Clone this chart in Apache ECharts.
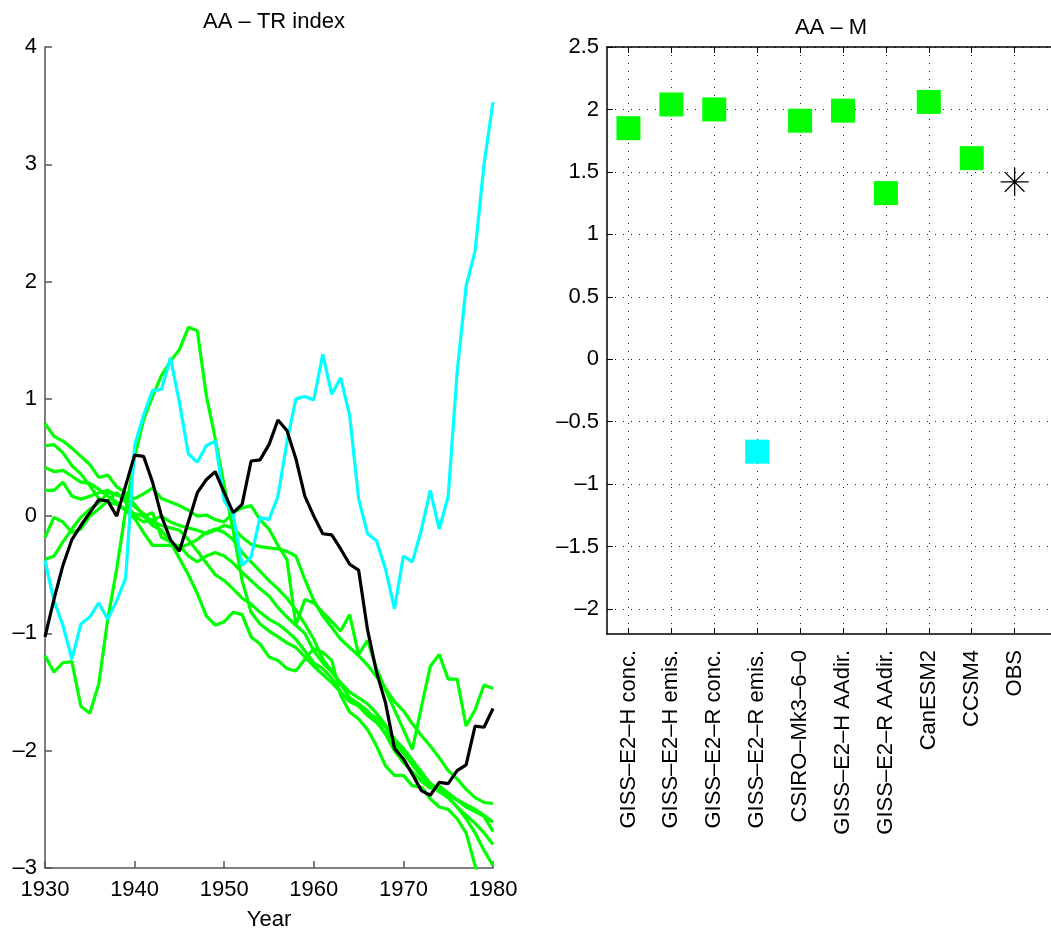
<!DOCTYPE html>
<html>
<head>
<meta charset="utf-8">
<script src="https://cdn.jsdelivr.net/npm/echarts@6/dist/echarts.min.js"></script>
<style>
html,body{margin:0;padding:0;background:#fff;}
#chart{width:1051px;height:929px;}
</style>
</head>
<body>
<div id="chart"></div>
<script>
// ---------- data ----------
const years = [1930,1931,1932,1933,1934,1935,1936,1937,1938,1939,
  1940,1941,1942,1943,1944,1945,1946,1947,1948,1949,
  1950,1951,1952,1953,1954,1955,1956,1957,1958,1959,
  1960,1961,1962,1963,1964,1965,1966,1967,1968,1969,
  1970,1971,1972,1973,1974,1975,1976,1977,1978,1979,1980];

const greenA = [0.79,0.68,0.64,0.58,0.51,0.44,0.33,0.35,0.25,0.20,
  0.10,0.00,-0.08,-0.12,-0.22,-0.36,-0.50,-0.66,-0.85,-0.93,
  -0.90,-0.82,-0.84,-1.03,-1.09,-1.20,-1.23,-1.30,-1.32,-1.22,
  -1.13,-1.16,-1.23,-1.53,-1.67,-1.73,-1.82,-1.96,-2.13,-2.21,
  -2.21,-2.30,-2.31,-2.41,-2.48,-2.50,-2.58,-2.70,-2.98,-3.25,-3.40];
const greenB = [0.60,0.61,0.54,0.43,0.36,0.26,0.15,0.12,0.10,0.05,
  -0.02,-0.14,-0.25,-0.25,-0.25,-0.25,-0.34,-0.39,-0.34,-0.31,
  -0.34,-0.40,-0.48,-0.55,-0.62,-0.68,-0.78,-0.86,-0.93,-1.00,
  -1.15,-1.25,-1.33,-1.42,-1.50,-1.55,-1.60,-1.68,-1.78,-1.90,
  -1.98,-2.08,-2.18,-2.28,-2.34,-2.40,-2.48,-2.58,-2.70,-2.85,-2.98];
const greenC = [0.415,0.38,0.39,0.34,0.29,0.28,0.23,0.17,0.12,0.05,
  0.02,0.00,0.03,-0.18,-0.22,-0.27,-0.24,-0.20,-0.14,-0.11,
  -0.14,-0.20,-0.31,-0.39,-0.47,-0.55,-0.62,-0.70,-0.80,-0.92,
  -1.05,-1.22,-1.32,-1.43,-1.55,-1.60,-1.66,-1.74,-1.86,-2.00,
  -2.10,-2.18,-2.26,-2.32,-2.30,-2.36,-2.42,-2.48,-2.52,-2.56,-2.69];
const greenD = [0.22,0.22,0.29,0.17,0.145,0.17,0.20,0.22,0.18,0.17,
  0.15,0.19,0.24,0.15,0.12,0.09,0.05,0.00,0.01,-0.03,
  -0.05,0.03,0.07,0.09,-0.03,-0.11,-0.25,-0.37,-0.93,-0.71,
  -0.74,-0.82,-0.90,-0.98,-0.84,-1.18,-1.06,-1.30,-1.48,-1.65,
  -1.82,-1.99,-1.63,-1.28,-1.18,-1.39,-1.39,-1.79,-1.65,-1.44,-1.47];
const greenE = [-0.18,-0.01,-0.05,-0.14,-0.11,0.00,0.06,0.13,0.20,0.12,
  0.00,-0.05,-0.03,0.00,-0.05,-0.08,-0.10,-0.12,-0.15,-0.12,
  -0.08,-0.10,-0.18,-0.24,-0.26,-0.27,-0.28,-0.30,-0.34,-0.54,
  -0.72,-0.85,-0.95,-1.05,-1.12,-1.19,-1.27,-1.37,-1.47,-1.58,
  -1.66,-1.77,-1.87,-1.96,-2.06,-2.17,-2.24,-2.33,-2.40,-2.44,-2.45];
const greenF = [-0.37,-0.34,-0.22,-0.11,-0.01,0.06,0.11,0.20,0.18,0.15,
  0.08,0.02,-0.05,-0.08,-0.10,-0.12,-0.20,-0.30,-0.40,-0.50,
  -0.55,-0.62,-0.70,-0.75,-0.82,-0.88,-0.92,-0.98,-1.05,-1.15,
  -1.25,-1.30,-1.38,-1.50,-1.58,-1.62,-1.68,-1.72,-1.80,-1.92,
  -2.00,-2.10,-2.20,-2.28,-2.33,-2.38,-2.42,-2.46,-2.50,-2.55,-2.61];
const greenG = [-1.19,-1.33,-1.25,-1.24,-1.62,-1.68,-1.43,-0.88,-0.45,0.05,
  0.50,0.82,1.02,1.20,1.32,1.42,1.61,1.58,1.03,0.66,
  0.26,-0.12,-0.55,-0.82,-0.92,-0.98,-1.03,-1.08,-1.12,-1.20,
  -1.28,-1.35,-1.42,-1.50,-1.58,-1.62,-1.70,-1.76,-1.85,-1.95,
  -2.02,-2.12,-2.22,-2.30,-2.35,-2.40,-2.48,-2.55,-2.62,-2.70,-2.80];
const cyanLine = [-0.38,-0.72,-0.93,-1.22,-0.92,-0.86,-0.74,-0.88,-0.72,-0.53,
  0.60,0.86,1.07,1.08,1.35,0.97,0.53,0.46,0.60,0.64,
  0.13,0.02,-0.42,-0.35,-0.01,-0.03,0.17,0.63,1.00,1.02,
  0.99,1.38,1.04,1.18,0.86,0.15,-0.15,-0.21,-0.45,-0.79,
  -0.34,-0.39,-0.12,0.22,-0.11,0.17,1.23,1.96,2.26,3.00,3.53];
const obsLine = [-1.03,-0.71,-0.42,-0.20,-0.08,0.03,0.14,0.13,0.00,0.26,
  0.52,0.51,0.29,0.00,-0.20,-0.30,-0.05,0.20,0.31,0.38,
  0.20,0.03,0.10,0.47,0.48,0.61,0.82,0.73,0.49,0.17,
  0.00,-0.15,-0.16,-0.28,-0.41,-0.46,-0.97,-1.33,-1.59,-1.98,
  -2.07,-2.20,-2.34,-2.38,-2.27,-2.28,-2.17,-2.12,-1.79,-1.80,-1.64];

const models = ['GISS–E2–H conc.','GISS–E2–H emis.','GISS–E2–R conc.','GISS–E2–R emis.',
  'CSIRO–Mk3–6–0','GISS–E2–H AAdir.','GISS–E2–R AAdir.','CanESM2','CCSM4','OBS'];
const modelValues = [1.85,2.04,2.0,-0.74,1.91,1.99,1.33,2.06,1.61,1.42];
const modelColors = ['#00ff00','#00ff00','#00ff00','#00ffff','#00ff00','#00ff00','#00ff00','#00ff00','#00ff00','#000000'];
const rightTicks = [-2,-1.5,-1,-0.5,0,0.5,1,1.5,2,2.5];

// ---------- chart ----------
const FONT = '"Liberation Sans", Arial, Helvetica, sans-serif';
const FS = 22;
const dash = v => String(v).replace('-', '–');
const pair = arr => arr.map((v, i) => [years[i], v]);

const greens = [greenA, greenB, greenC, greenD, greenE, greenF, greenG];
const series = [];
greens.forEach(g => series.push({
  type: 'line', xAxisIndex: 0, yAxisIndex: 0, data: pair(g), showSymbol: false,
  lineStyle: {color: '#00ff00', width: 3.2}, clip: true, silent: true, z: 2
}));
series.push({type: 'line', xAxisIndex: 0, yAxisIndex: 0, data: pair(cyanLine), showSymbol: false,
  lineStyle: {color: '#00ffff', width: 3.2}, clip: true, silent: true, z: 3});
series.push({type: 'line', xAxisIndex: 0, yAxisIndex: 0, data: pair(obsLine), showSymbol: false,
  lineStyle: {color: '#000000', width: 3.2}, clip: true, silent: true, z: 4});

const squareData = [], starData = [];
models.forEach((m, i) => {
  if (m === 'OBS') starData.push([i, modelValues[i]]);
  else squareData.push({value: [i, modelValues[i]], itemStyle: {color: modelColors[i], opacity: 1}});
});
series.push({type: 'scatter', xAxisIndex: 1, yAxisIndex: 1, data: squareData,
  symbol: 'rect', symbolSize: 24, silent: true, z: 5, itemStyle: {opacity: 1}});
series.push({type: 'scatter', xAxisIndex: 1, yAxisIndex: 1, data: starData,
  symbol: 'path://M0,-1L0,1M-1,0L1,0M-0.7,-0.7L0.7,0.7M-0.7,0.7L0.7,-0.7',
  symbolSize: 28, silent: true, z: 6,
  itemStyle: {color: 'rgba(0,0,0,0)', borderColor: '#000', borderWidth: 1.3, opacity: 1}});

const catData = models.concat(['']);
const dotStyle = {color: '#222', width: 1, type: [1, 7]};

const option = {
  backgroundColor: '#fff',
  animation: false,
  textStyle: {fontFamily: FONT},
  title: [
    {text: 'AA – TR index', left: 269, top: 6, textAlign: 'center',
      textStyle: {fontFamily: FONT, fontSize: FS, fontWeight: 'normal', color: '#000'}},
    {text: 'AA – M', left: 826, top: 12, textAlign: 'center',
      textStyle: {fontFamily: FONT, fontSize: FS, fontWeight: 'normal', color: '#000'}}
  ],
  grid: [
    {left: 45, top: 47, width: 448, height: 821, containLabel: false, outerBoundsMode: 'none'},
    {left: 607, top: 47, width: 472, height: 587, containLabel: false, outerBoundsMode: 'none'}
  ],
  xAxis: [
    {type: 'value', gridIndex: 0, min: 1930, max: 1980, interval: 10,
      name: 'Year', nameLocation: 'middle', nameGap: 41,
      nameTextStyle: {fontFamily: FONT, fontSize: FS, color: '#000'},
      axisLine: {show: true, onZero: false, lineStyle: {color: '#555', width: 1.5}},
      axisTick: {show: true, inside: true, length: 7, lineStyle: {color: '#555', width: 1.5}},
      axisLabel: {fontFamily: FONT, fontSize: FS, color: '#000', margin: 11, formatter: v => String(v)},
      splitLine: {show: false}},
    {type: 'category', gridIndex: 1, data: catData, boundaryGap: true, position: 'bottom',
      axisLine: {show: true, onZero: false, lineStyle: {color: '#000', width: 1.5}},
      axisTick: {show: true, inside: true, length: 6, interval: 0, alignWithLabel: true,
        lineStyle: {color: '#000', width: 1}},
      axisLabel: {fontFamily: FONT, fontSize: FS, color: '#000', rotate: 90, interval: 0, margin: 16},
      splitLine: {show: true, interval: 0, alignWithLabel: true, lineStyle: dotStyle}},
    {type: 'category', gridIndex: 1, data: catData, boundaryGap: true, position: 'top',
      axisLine: {show: true, onZero: false, lineStyle: {color: '#000', width: 1.5}},
      axisTick: {show: true, inside: true, length: 6, interval: 0, alignWithLabel: true,
        lineStyle: {color: '#000', width: 1}},
      axisLabel: {show: false}, splitLine: {show: false}}
  ],
  yAxis: [
    {type: 'value', gridIndex: 0, min: -3, max: 4, interval: 1,
      axisLine: {show: true, onZero: false, lineStyle: {color: '#555', width: 1.5}},
      axisTick: {show: true, inside: true, length: 7, lineStyle: {color: '#555', width: 1.5}},
      axisLabel: {fontFamily: FONT, fontSize: FS, color: '#000', margin: 8, formatter: dash},
      splitLine: {show: false}},
    {type: 'value', gridIndex: 1, min: -2.2, max: 2.5,
      axisLine: {show: true, onZero: false, lineStyle: {color: '#000', width: 1.5}},
      axisTick: {show: true, inside: true, length: 6, customValues: rightTicks,
        lineStyle: {color: '#000', width: 1}},
      axisLabel: {fontFamily: FONT, fontSize: FS, color: '#000', margin: 8, customValues: rightTicks,
        formatter: v => dash(v)},
      splitLine: {show: true, customValues: rightTicks, lineStyle: dotStyle}}
  ],
  series: series
};

const chart = echarts.init(document.getElementById('chart'), null, {renderer: 'canvas'});
chart.setOption(option);
</script>
</body>
</html>
